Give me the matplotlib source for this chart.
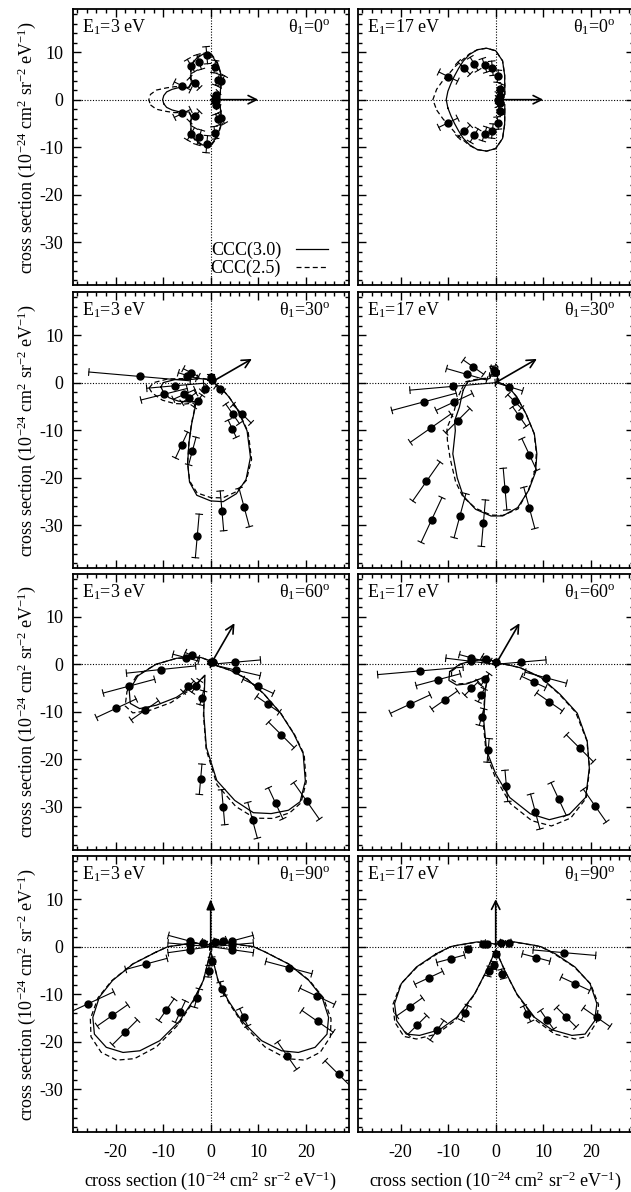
import numpy as np
import matplotlib
matplotlib.use('Agg')
import matplotlib.pyplot as plt
from matplotlib.ticker import MultipleLocator

plt.rcParams['font.family'] = ['Liberation Serif', 'DejaVu Serif']
plt.rcParams['mathtext.fontset'] = 'custom'
plt.rcParams['mathtext.rm'] = 'Liberation Serif'
plt.rcParams['mathtext.it'] = 'Liberation Serif:italic'
plt.rcParams['mathtext.default'] = 'rm'
plt.rcParams['axes.unicode_minus'] = False

energies = [3, 17]          # E1 (eV), columns
theta1 = [0, 30, 60, 90]    # theta1 (deg), rows

#### curves: theta2 (deg) and cross section, CCC(3.0) solid / CCC(2.5) dashed
## E1=3, theta1=0
ang_3_0 = [-175, -170, -165, -160, -150, -140, -130, -120, -110, -100, -90, -80, -70, -60, -45, -30, -15, 0,
           15, 30, 45, 60, 70, 80, 90, 100, 110, 120, 130, 140, 150, 160, 165, 170, 175, 180]
ccc30_3_0 = [9.9, 9.4, 8.4, 7.3, 5.2, 5.3, 6.5, 8.2, 9.1, 9.7, 9.6, 7.8, 6.0, 4.4, 2.9, 2.3, 1.2, 0.6,
             1.2, 2.3, 2.9, 4.4, 6.0, 7.8, 9.6, 9.7, 9.1, 8.2, 6.5, 5.3, 5.2, 7.3, 8.4, 9.4, 9.9, 10.1]
ccc25_3_0 = [12.7, 11.6, 9.6, 8.0, 5.3, 5.4, 6.6, 8.3, 9.3, 9.9, 9.8, 8.0, 6.1, 4.5, 3.0, 2.3, 1.2, 0.6,
             1.2, 2.3, 3.0, 4.5, 6.1, 8.0, 9.8, 9.9, 9.3, 8.3, 6.6, 5.4, 5.3, 8.0, 9.6, 11.6, 12.7, 13.0]
## E1=17, theta1=0
ang_17_0 = [-170, -160, -150, -140, -130, -120, -110, -100, -90, -80, -70, -60, -45, -30, -15, 0,
            15, 30, 45, 60, 70, 80, 90, 100, 110, 120, 130, 140, 150, 160, 170, 180]
ccc30_17_0 = [10.2, 10.0, 10.0, 10.2, 10.6, 11.0, 11.2, 11.0, 10.3, 8.3, 5.5, 3.8, 2.7, 2.2, 1.3, 0.5,
              1.3, 2.2, 2.7, 3.8, 5.5, 8.3, 10.3, 11.0, 11.2, 11.0, 10.6, 10.2, 10.0, 10.0, 10.2, 10.4]
ccc25_17_0 = [12.6, 11.8, 11.2, 11.0, 10.9, 11.1, 11.2, 11.0, 10.3, 8.3, 5.5, 3.8, 2.7, 2.2, 1.3, 0.5,
              1.3, 2.2, 2.7, 3.8, 5.5, 8.3, 10.3, 11.0, 11.2, 11.1, 10.9, 11.0, 11.2, 11.8, 12.6, 13.2]
## E1=3, theta1=30
ang_3_30 = [-175, -170, -160, -150, -140, -130, -125, -120, -115, -110, -106, -102, -97, -90, -84, -77, -70,
            -62, -53, -45, -38, -33, -25, -15, 0, 30, 60, 90, 120, 150, 160, 170, 175, 180]
ccc30_3_30 = [10.5, 10.2, 9.3, 7.8, 6.3, 5.2, 5.5, 6.8, 9.4, 13.3, 17.6, 21.4, 23.9, 24.9, 25.2, 24.0, 21.7,
              17.8, 12.7, 7.9, 4.8, 3.3, 1.8, 0.9, 0.4, 0.3, 0.3, 0.4, 0.7, 1.5, 2.5, 4.0, 7.5, 10.0]
ccc25_3_30 = [13.0, 12.5, 10.8, 8.8, 7.0, 5.6, 5.8, 7.0, 9.6, 13.4, 17.6, 21.2, 23.4, 24.2, 24.4, 23.6, 21.9,
              18.3, 13.1, 8.1, 4.9, 3.3, 1.8, 0.9, 0.4, 0.3, 0.3, 0.4, 0.8, 1.7, 3.0, 5.0, 9.0, 12.0]
## E1=17, theta1=30
ang_17_30 = [-167, -157, -146, -137, -130, -121, -112, -106, -99, -92, -87, -80, -73, -66, -60, -53, -46,
             -34, -18, -5, 20, 60, 75, 90, 105, 120, 140, 155, 165, 172, 178, 180]
ccc30_17_30 = [7.0, 7.8, 9.2, 11.8, 13.2, 17.5, 21.6, 24.8, 27.0, 28.1, 28.1, 26.7, 23.7, 20.6, 17.3, 13.5, 9.2,
               5.3, 2.8, 1.0, 0.4, 0.8, 1.4, 1.8, 2.0, 2.0, 1.5, 1.8, 3.0, 4.0, 5.8, 6.0]
ccc25_17_30 = [7.5, 8.8, 10.5, 14.0, 15.8, 18.6, 22.5, 25.0, 26.8, 27.9, 28.0, 27.0, 23.6, 20.3, 17.1, 13.4, 9.2,
               5.3, 2.8, 1.0, 0.5, 1.5, 3.0, 3.9, 3.8, 2.5, 1.8, 2.2, 3.2, 4.5, 6.2, 6.5]
## E1=3, theta1=60
ang_3_60 = [-171, -162, -154, -148, -143, -136, -126, -118, -98, -93, -87, -80, -74, -68, -62, -57, -51,
            -44, -40, -35, -29, -22, -17, -14, 0, 30, 60, 90, 120, 145, 155, 165, 170, 180]
ccc30_3_60 = [15.5, 18.0, 18.8, 17.6, 14.3, 10.0, 5.0, 2.6, 10.5, 17.5, 24.5, 29.1, 32.5, 33.9, 34.8, 34.5, 31.6,
              27.0, 22.8, 17.9, 12.7, 8.2, 4.3, 1.5, 0.6, 0.4, 0.4, 0.5, 1.0, 2.5, 3.5, 5.3, 7.3, 11.5]
ccc25_3_60 = [15.8, 18.5, 20.0, 19.3, 16.2, 11.6, 5.9, 2.7, 10.9, 18.0, 25.4, 30.4, 33.7, 35.0, 35.4, 34.8, 31.9,
              27.3, 23.0, 18.0, 12.7, 8.2, 4.3, 1.5, 0.6, 0.4, 0.4, 0.5, 1.0, 2.5, 3.5, 5.3, 7.3, 11.5]
## E1=17, theta1=60
ang_17_60 = [-171, -161, -152, -146, -140, -124, -112, -102, -96, -90, -84, -77, -71, -64, -56, -48, -40,
             -31, -25, -16, -8, -4, 10, 30, 60, 90, 120, 150, 170, 180]
ccc30_17_60 = [9.8, 10.4, 9.3, 7.4, 5.25, 2.8, 5.9, 12.1, 18.3, 23.1, 28.2, 32.3, 34.6, 35.2, 33.8, 29.4, 25.1,
               20.0, 14.9, 9.8, 5.2, 3.0, 1.0, 0.6, 0.4, 0.5, 0.8, 2.0, 4.8, 7.6]
ccc25_17_60 = [9.4, 9.8, 8.8, 7.1, 5.2, 2.8, 6.1, 12.6, 19.0, 24.0, 29.5, 33.8, 36.0, 36.0, 34.0, 29.5, 25.0,
               19.6, 14.6, 9.6, 5.2, 3.0, 1.0, 0.6, 0.4, 0.5, 0.8, 2.0, 4.8, 7.4]
## E1=3, theta1=90
ang_3_90 = [-174.5, -167.5, -161, -155.6, -149, -143, -136, -129.6, -124.2, -118.4, -112.6, -108, -102.3, -98,
            -90, -82, -77.7, -72, -67.4, -61.6, -55.8, -50.4, -44, -37, -31, -24.4, -19, -12.5, -5.5, 0,
            2, 12, 23, 90, 157, 168, 178, 180]
ccc30_3_90 = [11.45, 16.7, 21.8, 25.7, 28.9, 30.6, 30.5, 28.9, 26.5, 22.5, 16.9, 11.9, 7.3, 2.2,
              1.0, 2.2, 7.3, 11.9, 16.9, 22.5, 26.5, 28.9, 30.5, 30.6, 28.9, 25.7, 21.8, 16.7, 11.45, 9.0,
              7.2, 3.8, 1.3, 0.4, 1.3, 3.8, 7.2, 9.0]
ccc25_3_90 = [11.5, 16.8, 22.0, 26.0, 29.5, 31.5, 32.0, 31.0, 28.5, 24.0, 17.8, 12.5, 7.6, 2.3,
              1.0, 2.3, 7.6, 12.5, 17.8, 24.0, 28.5, 31.0, 32.0, 31.5, 29.5, 26.0, 22.0, 16.8, 11.5, 9.0,
              7.2, 3.8, 1.3, 0.4, 1.3, 3.8, 7.2, 9.0]
## E1=17, theta1=90
ang_17_90 = [-173.2, -165.6, -158.6, -150.6, -143.1, -135.6, -130.6, -124, -118.8, -114, -110.8, -103,
             -90, -77, -69.2, -66, -61.2, -56, -49.4, -44.4, -36.9, -29.4, -21.4, -14.4, -6.8, 0,
             2, 14, 33, 90, 147, 166, 178, 180]
ccc30_17_90 = [12.6, 17.2, 21.3, 24.4, 26.0, 26.3, 24.6, 21.1, 17.0, 10.8, 5.35, 1.5,
               0.6, 1.5, 5.35, 10.8, 17.0, 21.1, 24.6, 26.3, 26.0, 24.4, 21.3, 17.2, 12.6, 9.5,
               8.2, 4.1, 1.4, 0.5, 1.4, 4.1, 8.2, 9.5]
ccc25_17_90 = [12.3, 17.0, 21.4, 24.8, 26.5, 27.0, 25.6, 22.2, 17.8, 11.2, 5.6, 1.6,
               0.6, 1.6, 5.6, 11.2, 17.8, 22.2, 25.6, 27.0, 26.5, 24.8, 21.4, 17.0, 12.3, 9.5,
               8.0, 4.0, 1.4, 0.5, 1.4, 4.0, 8.0, 9.5]

#### experiment: theta2 (deg), cross section, error
pang_3_0 = [-154, -134, -120, -107, -95, -83, -71, -60, -44, -20, 0, 20, 44, 60, 71, 83, 95, 107, 120, 134, 154]
pcs_3_0 = [6.6, 4.9, 8.3, 8.3, 9.4, 7.0, 4.4, 4.5, 1.5, 1.1, 0.8, 1.1, 1.5, 4.5, 4.4, 7.0, 9.4, 8.3, 8.3, 4.9, 6.6]
perr_3_0 = [1.9, 1.5, 1.5, 1.6, 1.8, 1.3, 1.2, 1.3, 0.8, 0.6, 0.5, 0.6, 0.8, 1.3, 1.2, 1.3, 1.8, 1.6, 1.5, 1.5, 1.9]

pang_17_0 = [-154, -135, -121, -108, -96, -85, -69, -40, 0, 40, 69, 85, 96, 108, 121, 135, 154]
pcs_17_0 = [11.1, 9.4, 8.8, 7.6, 6.65, 4.95, 2.5, 1.1, 0.4, 1.1, 2.5, 4.95, 6.65, 7.6, 8.8, 9.4, 11.1]
perr_17_0 = [2.2, 1.8, 1.6, 1.5, 1.5, 1.3, 1.0, 0.6, 0.3, 0.6, 1.0, 1.3, 1.5, 1.5, 1.6, 1.8, 2.2]

pang_3_30 = [-175, -166, -156, -145, -135, -125, -115, -105, -95, -85, -75, -65, -55, -45, -35, 60, 90, 153, 163, 175]
pcs_3_30 = [7.5, 10.1, 6.1, 5.6, 1.8, 4.7, 14.5, 14.9, 32.4, 27.1, 27.2, 10.7, 8.0, 9.3, 2.3, 0.6, 1.2, 4.65, 5.1, 15.0]
perr_3_30 = [6.0, 5.0, 2.5, 1.8, 0.8, 1.5, 3.0, 3.0, 4.6, 4.2, 4.2, 2.0, 2.5, 2.7, 1.0, 0.3, 0.6, 1.8, 2.0, 10.7]

pang_17_30 = [-175, -165, -155, -145, -135, -125, -115, -105, -95, -85, -75, -65, -55, -45, -17, 95, 100, 145, 164]
pcs_17_30 = [9.1, 15.6, 9.6, 16.7, 11.3, 25.4, 31.9, 29.0, 29.7, 22.5, 27.3, 16.7, 8.7, 5.6, 3.0, 2.2, 2.6, 5.7, 6.35]
perr_17_30 = [9.0, 7.0, 4.2, 5.2, 3.6, 5.0, 5.2, 4.8, 4.9, 4.4, 4.5, 3.7, 2.5, 2.0, 2.9, 0.8, 0.9, 2.6, 4.4]

pang_3_60 = [-174, -165, -155, -145, -135, -124, -105, -95, -85, -75, -65, -55, -45, -35, -25, -13, 5, 45, 90, 155, 165]
pcs_3_60 = [10.5, 17.8, 21.9, 16.9, 6.6, 5.6, 7.3, 24.3, 30.2, 34.0, 32.3, 35.1, 21.0, 14.7, 11.0, 5.35, 5.2, 0.8, 0.5, 4.4, 5.4]
perr_3_60 = [7.3, 5.6, 4.6, 3.5, 1.6, 1.5, 1.5, 3.2, 3.7, 3.9, 3.6, 4.7, 3.8, 2.9, 3.5, 5.3, 5.3, 0.4, 0.3, 1.5, 2.8]

pang_17_60 = [-175, -165, -155, -145, -135, -125, -115, -105, -95, -85, -75, -65, -55, -45, -35, -25, -15, 5, 90, 150, 165, 173]
pcs_17_60 = [15.9, 12.5, 19.8, 13.1, 7.2, 3.9, 7.2, 11.5, 18.2, 25.7, 32.1, 31.3, 36.3, 25.0, 13.8, 8.8, 10.9, 5.3, 0.5, 2.3, 5.4, 5.25]
perr_17_60 = [9.0, 4.8, 4.6, 3.3, 2.0, 1.5, 1.5, 1.8, 2.5, 3.3, 3.8, 3.8, 4.2, 4.0, 3.3, 2.8, 4.5, 5.3, 0.3, 1.0, 2.5, 5.3]

pang_3_90 = [-165, -155, -145, -135, -125, -115, -105, -95, -85, -75, -65, -55, -45, -35, -25, -15, -172, -8, 5, 15, 24, 48, 153, 165, 175]
pcs_3_90 = [14.0, 28.5, 25.2, 25.5, 16.2, 15.1, 11.2, 5.2, 3.0, 9.2, 16.4, 28.0, 38.0, 27.4, 24.7, 17.0, 4.45, 4.45, 4.4, 4.6, 2.9, 1.3, 1.7, 4.6, 4.4]
perr_3_90 = [4.5, 6.0, 3.9, 3.7, 2.8, 2.5, 2.0, 1.2, 0.8, 1.5, 2.0, 3.5, 4.0, 4.0, 4.0, 5.0, 4.6, 4.6, 4.6, 4.6, 0.8, 0.5, 0.6, 4.6, 4.6]

pang_17_90 = [-175, -165, -155, -145, -135, -125, -115, -105, -96, -90, -76, -65, -55, -45, -35, -25, -15, -5, 15, 36, 162, 169]
pcs_17_90 = [5.8, 9.8, 15.5, 22.1, 23.3, 21.5, 15.4, 5.4, 3.95, 1.5, 5.9, 15.6, 18.8, 21.0, 25.9, 18.5, 8.8, 14.5, 2.9, 1.3, 2.0, 2.65]
perr_17_90 = [0.6, 3.0, 3.2, 3.3, 2.8, 2.5, 1.7, 1.0, 0.8, 0.5, 1.0, 1.8, 2.4, 2.9, 3.4, 3.3, 3.0, 6.6, 0.6, 0.4, 0.5, 0.6]

panels = {
    (0, 0): (ang_3_0, ccc30_3_0, ccc25_3_0, pang_3_0, pcs_3_0, perr_3_0),
    (0, 1): (ang_17_0, ccc30_17_0, ccc25_17_0, pang_17_0, pcs_17_0, perr_17_0),
    (1, 0): (ang_3_30, ccc30_3_30, ccc25_3_30, pang_3_30, pcs_3_30, perr_3_30),
    (1, 1): (ang_17_30, ccc30_17_30, ccc25_17_30, pang_17_30, pcs_17_30, perr_17_30),
    (2, 0): (ang_3_60, ccc30_3_60, ccc25_3_60, pang_3_60, pcs_3_60, perr_3_60),
    (2, 1): (ang_17_60, ccc30_17_60, ccc25_17_60, pang_17_60, pcs_17_60, perr_17_60),
    (3, 0): (ang_3_90, ccc30_3_90, ccc25_3_90, pang_3_90, pcs_3_90, perr_3_90),
    (3, 1): (ang_17_90, ccc30_17_90, ccc25_17_90, pang_17_90, pcs_17_90, perr_17_90),
}
arrow_len = 10


def to_xy(ang, r):
    a = np.radians(ang)
    r = np.asarray(r, dtype=float)
    return r * np.cos(a), r * np.sin(a)


ylab = 'cross section (10$^{-24}$ cm$^2$ sr$^{-2}$ eV$^{-1}$)'
fs = 13
cap = 0.7

fig = plt.figure(figsize=(6.31, 11.92), dpi=100)
col_left = [72.7 / 631, 357.7 / 631]
w = 276 / 631
row_bottom = [0.7610, 0.5236, 0.2873, 0.0504]
h = 0.2311

for (r, c), (ang, s30, s25, pang, pcs, perr) in panels.items():
    ax = fig.add_axes([col_left[c], row_bottom[r], w, h])
    ax.axhline(0, color='k', lw=0.8, ls=(0, (1, 1.5)), zorder=1)
    ax.axvline(0, color='k', lw=0.8, ls=(0, (1, 1.5)), zorder=1)

    # closed theory curves
    x, y = to_xy(ang + ang[:1], s30 + s30[:1])
    ax.plot(x, y, color='k', lw=0.9, label='CCC(3.0)')
    x, y = to_xy(ang + ang[:1], s25 + s25[:1])
    ax.plot(x, y, color='k', lw=0.9, ls=(0, (4, 2.5)), label='CCC(2.5)')

    # radial error bars
    for a, v, e in zip(pang, pcs, perr):
        t = np.radians(a)
        ux, uy = np.cos(t), np.sin(t)
        r0, r1 = v - e, v + e
        ax.plot([r0 * ux, r1 * ux], [r0 * uy, r1 * uy], color='k', lw=0.8)
        for rr in (r0, r1):
            ax.plot([rr * ux + cap * uy, rr * ux - cap * uy],
                    [rr * uy - cap * ux, rr * uy + cap * ux], color='k', lw=0.8)
    px, py = to_xy(pang, pcs)
    ax.plot(px, py, 'o', color='k', ms=5, zorder=4)

    # direction of the fast electron
    t1 = np.radians(theta1[r])
    style = '-|>,head_length=0.6,head_width=0.25' if (r, c) == (3, 0) else '->,head_length=0.6,head_width=0.3'
    ax.annotate('', xy=(arrow_len * np.cos(t1), arrow_len * np.sin(t1)), xytext=(0, 0),
                arrowprops=dict(arrowstyle=style, color='k', lw=1.2, shrinkA=0, shrinkB=0), zorder=5)

    ax.set_xlim(-29, 29)
    ax.set_ylim(-39, 19)
    ax.xaxis.set_major_locator(MultipleLocator(10))
    ax.xaxis.set_minor_locator(MultipleLocator(2))
    ax.yaxis.set_major_locator(MultipleLocator(10))
    ax.yaxis.set_minor_locator(MultipleLocator(2))
    ax.tick_params(which='both', direction='in', top=True, right=True, labelsize=fs)
    ax.tick_params(which='major', length=6, width=1.0)
    ax.tick_params(which='minor', length=3, width=1.0)
    ax.tick_params(axis='x', pad=9)
    ax.tick_params(axis='y', pad=7)
    for sp in ax.spines.values():
        sp.set_linewidth(1.3)

    if c == 0:
        ax.set_ylabel(ylab, fontsize=fs)
        ax.yaxis.set_label_coords(-0.125, 0.5)
    else:
        ax.tick_params(labelleft=False)
    if r == 3:
        ax.set_xlabel(ylab, fontsize=fs)
        ax.xaxis.set_label_coords(0.5, -0.135)
    else:
        ax.tick_params(labelbottom=False)

    ax.text(0.035, 0.936, 'E$_1$=%d eV' % energies[c], transform=ax.transAxes,
            ha='left', va='center', fontsize=fs)
    ax.text(0.935, 0.936, 'θ$_1$=%d$^{o}$' % theta1[r], transform=ax.transAxes,
            ha='right', va='center', fontsize=fs)

    if (r, c) == (0, 0):
        ax.legend(loc='lower right', bbox_to_anchor=(0.925, 0.028), frameon=False, markerfirst=False,
                  handlelength=1.8, handletextpad=0.8, labelspacing=0.05, borderpad=0,
                  borderaxespad=0, fontsize=fs)

fig.savefig('out.png', dpi=100)
